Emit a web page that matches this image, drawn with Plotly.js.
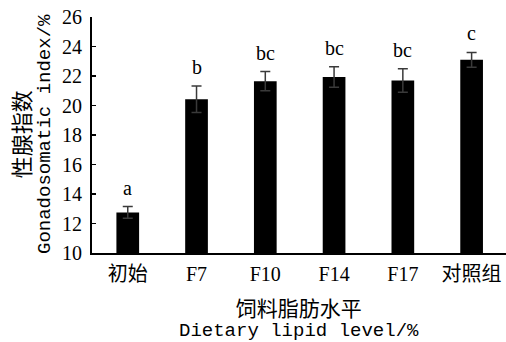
<!DOCTYPE html>
<html>
<head>
<meta charset="utf-8">
<script src="https://cdn.plot.ly/plotly-3.0.1.min.js"></script>
<style>html,body{margin:0;padding:0;background:#fff;}#chart{width:506px;height:342px;}</style>
</head>
<body>
<div id="chart"></div>
<script>
const categories = ["初始", "F7", "F10", "F14", "F17", "对照组"];
const gsiValues = [12.75, 20.43, 21.65, 21.93, 21.7, 23.1];
const gsiErrors = [0.4, 0.9, 0.65, 0.7, 0.8, 0.5];
const sigLetters = ["a", "b", "bc", "bc", "bc", "c"];
const yTickVals = [10, 12, 14, 16, 18, 20, 22, 24, 26];

const serif = "Liberation Serif, Noto Sans CJK SC, serif";
const monoName = "Liberation Mono";
const cjkName = "Noto Sans CJK SC";

const trace = {
  type: "bar",
  x: categories,
  y: gsiValues,
  width: 0.33,
  marker: {color: "#000000", line: {width: 0}},
  error_y: {type: "data", array: gsiErrors, visible: true, color: "#3a3a3a", thickness: 1.5, width: 5}
};

const annotations = categories.map((c, i) => ({
  x: c, y: gsiValues[i] + gsiErrors[i], xref: "x", yref: "y",
  text: sigLetters[i], showarrow: false, yanchor: "bottom", yshift: 6,
  font: {family: serif, size: 20, color: "#000"}
}));

const L = 92, R = 0, T = 17, B = 89, W = 506, H = 342;
const pw = W - L - R, ph = H - T - B;
const px = x => (x - L) / pw;
const py = y => 1 - (y - T) / ph;

annotations.push(
  {x: px(30), y: py(134), xref: "paper", yref: "paper", xanchor: "center", yanchor: "middle",
   text: '<span style="font-family:' + cjkName + ';font-size:22px">性腺指数</span><br>' +
         '<span style="font-family:' + monoName + ';font-size:19px">Gonadosomatic index/%</span>',
   showarrow: false, textangle: -90,
   font: {family: cjkName, size: 15.5, color: "#000"}},
  {x: px(299), y: py(316.5), xref: "paper", yref: "paper", xanchor: "center", yanchor: "middle",
   text: '<span style="font-family:' + cjkName + ';font-size:21px">饲料脂肪水平</span><br>' +
         '<span style="font-family:' + monoName + ';font-size:19px">Dietary lipid level/%</span>',
   showarrow: false,
   font: {family: cjkName, size: 15.5, color: "#000"}}
);

const layout = {
  width: W, height: H,
  margin: {l: L, r: R, t: T, b: B, pad: 0},
  paper_bgcolor: "#fff", plot_bgcolor: "#fff",
  showlegend: false,
  xaxis: {
    type: "category", range: [-0.52, 5.5],
    showline: true, linecolor: "#000", linewidth: 2,
    ticks: "", showgrid: false, zeroline: false,
    tickfont: {family: serif, size: 20, color: "#000"},
    ticklabelstandoff: 2
  },
  yaxis: {
    range: [10, 26], tickvals: yTickVals, ticktext: yTickVals.map(String),
    showline: true, linecolor: "#000", linewidth: 2,
    ticks: "inside", ticklen: 4, tickwidth: 1.5, tickcolor: "#000",
    showgrid: false, zeroline: false,
    tickfont: {family: serif, size: 20, color: "#000"},
    ticklabelstandoff: 4
  },
  annotations: annotations
};

Plotly.newPlot("chart", [trace], layout, {displayModeBar: false, staticPlot: true});
</script>
</body>
</html>
